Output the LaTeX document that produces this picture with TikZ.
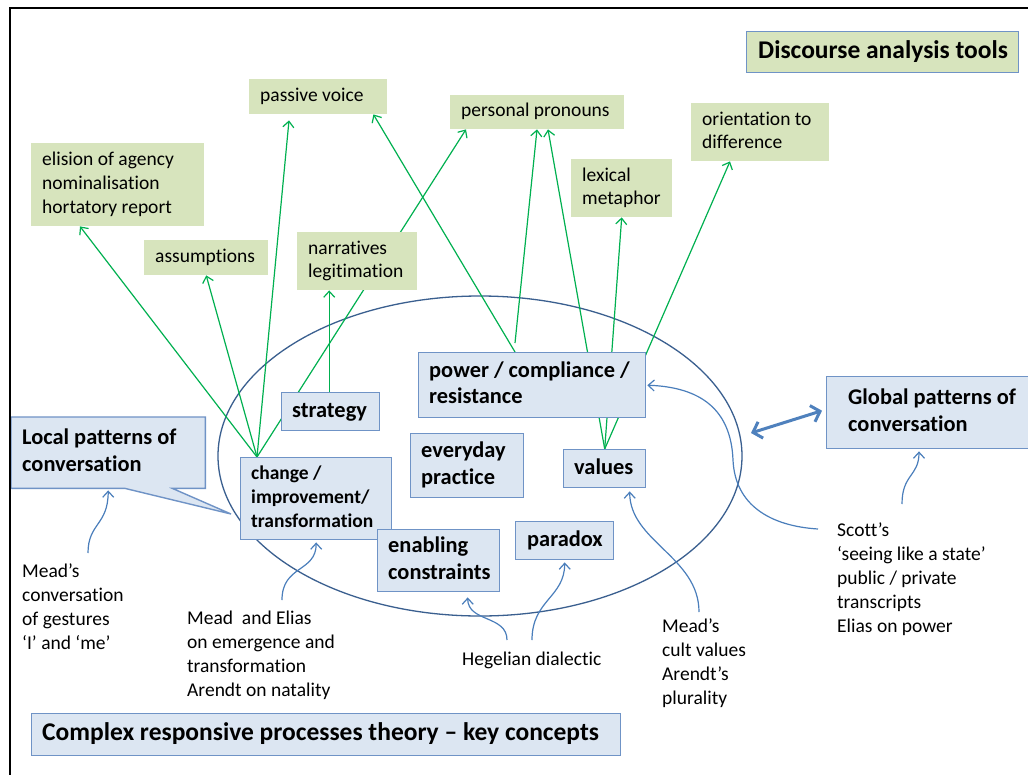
\documentclass[tikz,border=0pt]{standalone}
\usepackage{fontspec}
\setmainfont{Carlito}[Ligatures={NoCommon}]
\usetikzlibrary{arrows.meta,backgrounds}
\definecolor{gfill}{HTML}{D7E4BD}
\definecolor{bfill}{HTML}{DCE6F2}
\definecolor{bline}{HTML}{6F93C6}
\definecolor{garrow}{HTML}{00B050}
\definecolor{carrow}{HTML}{4A7EBB}
\definecolor{ellcol}{HTML}{3A5F8F}
\definecolor{dblc}{HTML}{4F81BD}
\newcommand\fsN{\fontsize{19.5pt}{23.8pt}\selectfont}
\newcommand\fsB{\fontsize{22.4pt}{26.5pt}\selectfont\bfseries}
\newcommand\fsC{\fontsize{19.5pt}{24pt}\selectfont\bfseries}
\newcommand\fsT{\fontsize{25.5pt}{30pt}\selectfont\bfseries}
\begin{document}
\begin{tikzpicture}[x=1pt,y=-1pt,
  gbox/.style={fill=gfill, draw=none, inner sep=0, anchor=north west},
  bbox/.style={fill=bfill, draw=bline, line width=1.4pt, inner sep=0, anchor=north west},
  ghost/.style={inner sep=0, anchor=north west},
  txt/.style={inner sep=0, align=left, anchor=west, text=black},
  lbl/.style={inner sep=0, align=left, anchor=north west, text=black, font=\fsN},
  garr/.style={draw=garrow, line width=1.2pt, -{Straight Barb[length=6pt,width=11pt]}},
  carr/.style={draw=carrow, line width=1.2pt, -{Straight Barb[length=6pt,width=11pt]}},
  dblarr/.style={draw=dblc, line width=3pt, {Straight Barb[length=8pt,width=17pt]}-{Straight Barb[length=8pt,width=17pt]}},
  ellstyle/.style={draw=ellcol, line width=1.3pt}
]
\useasboundingbox (0,0) rectangle (1028,774);

% ---- green boxes (discourse analysis tools)
\node[gbox, minimum width=138pt, minimum height=35pt] (pv) at (249,79) {};
\node[gbox, minimum width=174pt, minimum height=34pt] (pp) at (450,95) {};
\node[gbox, minimum width=138pt, minimum height=58pt] (od) at (691,103) {};
\node[gbox, minimum width=101pt, minimum height=58pt] (lm) at (571,159) {};
\node[gbox, minimum width=173pt, minimum height=83pt] (el) at (31,143) {};
\node[gbox, minimum width=124pt, minimum height=35pt] (as) at (144,240) {};
\node[gbox, minimum width=120pt, minimum height=58pt] (na) at (297,232) {};
\node[gbox, draw=bline, line width=1.4pt, minimum width=272pt, minimum height=41pt] (dat) at (746,31) {};

\node[txt, font=\fsN] (pvt) at ([xshift=11pt]pv.west) {\strut passive voice};
\node[txt, font=\fsN] (ppt) at ([xshift=11pt]pp.west) {\strut personal pronouns};
\node[txt, font=\fsN] (odt) at ([xshift=11pt]od.west) {\strut orientation to\\difference\strut};
\node[txt, font=\fsN] (lmt) at ([xshift=11pt]lm.west) {\strut lexical\\metaphor\strut};
\node[txt, font=\fsN] (elt) at ([xshift=11pt]el.west) {\strut elision of agency\\nominalisation\\hortatory report\strut};
\node[txt, font=\fsN] (ast) at ([xshift=11pt]as.west) {\strut assumptions};
\node[txt, font=\fsN] (nat) at ([xshift=11pt]na.west) {\strut narratives\\legitimation\strut};
\node[txt, font=\fsT] (datt) at ([xshift=12pt]dat.west) {\strut Discourse analysis tools};

% ---- blue boxes (key concepts)
\node[bbox, minimum width=98pt, minimum height=38pt] (strategy) at (281,392) {};
\node[bbox, minimum width=227pt, minimum height=65pt] (power) at (418,352) {};
\node[bbox, minimum width=113pt, minimum height=64pt] (everyday) at (410,433) {};
\node[bbox, minimum width=82pt, minimum height=38pt] (values) at (563,449) {};
\node[bbox, minimum width=151pt, minimum height=82pt] (change) at (240,457) {};
\node[bbox, minimum width=122pt, minimum height=62pt] (enab) at (377,529) {};
\node[bbox, minimum width=98pt, minimum height=38pt] (paradox) at (515,521) {};
\node[bbox, minimum width=215pt, minimum height=72pt] (global) at (826,376) {};
\node[bbox, minimum width=589pt, minimum height=42pt] (complex) at (31,713) {};
\node[ghost, minimum width=194pt, minimum height=71pt] (local) at (11,417) {};
\coordinate (tip) at (231,514);
\draw[fill=bfill, draw=bline, line width=1.4pt, line join=miter]
  (local.north west) -- (local.north east) -- (local.south east)
  -- ([xshift=-33pt]local.south east) -- (tip) -- ([xshift=114pt]local.south west)
  -- (local.south west) -- cycle;

\node[txt, font=\fsB] (strategyt) at ([xshift=11pt]strategy.west) {\strut strategy};
\node[txt, font=\fsB] (powert) at ([xshift=11pt]power.west) {\strut power / compliance /\\resistance\strut};
\node[txt, font=\fsB] (everydayt) at ([xshift=11pt]everyday.west) {\strut everyday\\practice\strut};
\node[txt, font=\fsB] (valuest) at ([xshift=11pt]values.west) {\strut values};
\node[txt, font=\fsC] (changet) at ([xshift=11pt]change.west) {\strut change /\\improvement/\\transformation\strut};
\node[txt, font=\fsB] (enabt) at ([xshift=11pt]enab.west) {\strut enabling\\constraints\strut};
\node[txt, font=\fsB] (paradoxt) at ([xshift=12pt]paradox.west) {\strut paradox};
\node[txt, font=\fsB] (globalt) at ([xshift=22pt]global.west) {\strut Global patterns of\\conversation\strut};
\node[txt, font=\fsB] (localt) at ([xshift=11pt]local.west) {\strut Local patterns of\\conversation\strut};
\node[txt, font=\fsT] (complext) at ([xshift=11pt]complex.west) {\strut Complex responsive processes theory – key concepts};

% ---- free labels
\node[lbl] (mead1) at (22,561) {\strut Mead’s\\conversation\\of gestures\\‘I’ and ‘me’};
\node[lbl] (meadel) at (187,608) {\strut Mead~ and Elias\\on emergence and\\transformation\\Arendt on natality};
\node[lbl] (heg) at (462,649) {\strut Hegelian dialectic};
\node[lbl] (cult) at (662,616) {\strut Mead’s\\cult values\\Arendt’s\\plurality};
\node[lbl] (scott) at (837,520) {\strut Scott’s\\‘seeing like a state’\\public / private\\transcripts\\Elias on power};

% ---- background: ellipse and green connectors
\begin{scope}[on background layer]
\fill[white] (0,0) rectangle (1028,774);
\draw[ellstyle] (480,456) ellipse [x radius=262pt, y radius=160pt];
\draw[garr] ([xshift=17pt]change.north west) -- ([xshift=49pt]el.south west);
\draw[garr] ([xshift=17pt]change.north west) -- (as.south);
\draw[garr] ([xshift=17pt]change.north west) -- ([xshift=40pt,yshift=-6pt]pv.south west);
\draw[garr] ([xshift=17pt]change.north west) -- ([xshift=16pt]pp.south west);
\draw[garr] ([xshift=48.2pt]strategy.north west) -- ([xshift=32.2pt]na.south west);
\draw[garr] ([xshift=97pt]power.north west) -- ([xshift=-14pt]pv.south east);
\draw[garr] ([xshift=97pt,yshift=9pt]power.north west) -- ([xshift=87pt]pp.south west);
\draw[garr] (values.north) -- ([xshift=98pt]pp.south west);
\draw[garr] (values.north) -- (lm.south);
\draw[garr] (values.north) -- ([xshift=39pt]od.south west);
\end{scope}

% ---- blue curved connectors
\draw[carr] ([xshift=66pt,yshift=8pt]mead1.north west) .. controls +(0,-30) and +(0,35) .. ([yshift=-2pt]local.south);
\draw[carr] ([xshift=95pt,yshift=8pt]meadel.north west) .. controls +(0,-35) and +(0,30) .. ([yshift=-2pt]change.south);
\draw[carr] ([xshift=45pt,yshift=9pt]heg.north west) .. controls +(0,-25) and +(0,25) .. ([xshift=29pt,yshift=-5pt]enab.south);
\draw[carr] ([xshift=70pt,yshift=9pt]heg.north west) .. controls +(0,-40) and +(0,35) .. ([yshift=-2pt]paradox.south);
\draw[carr] ([xshift=37pt,yshift=4pt]cult.north west) .. controls +(0,-55) and +(0,50) .. ([xshift=25pt,yshift=-3pt]values.south);
\coordinate (sbend) at (733,460);
\draw[carr] ([xshift=-19pt,yshift=-9pt]scott.north west) .. controls +(-48,-3) and +(2,45) .. (sbend)
  .. controls +(-2,-50) and +(54,2) .. ([xshift=1pt]power.east);
\draw[carr] ([xshift=65pt,yshift=16pt]scott.north west) .. controls +(0,-30) and +(0,25) .. ([xshift=93pt,yshift=-2pt]global.south west);
\coordinate (dblend) at (751,433);
\draw[dblarr] (dblend) -- ([xshift=-4pt,yshift=2pt]global.west);

% ---- frame
\draw[line width=2.5pt] (1030,8) -- (10,8) -- (10,776);
\end{tikzpicture}
\end{document}
